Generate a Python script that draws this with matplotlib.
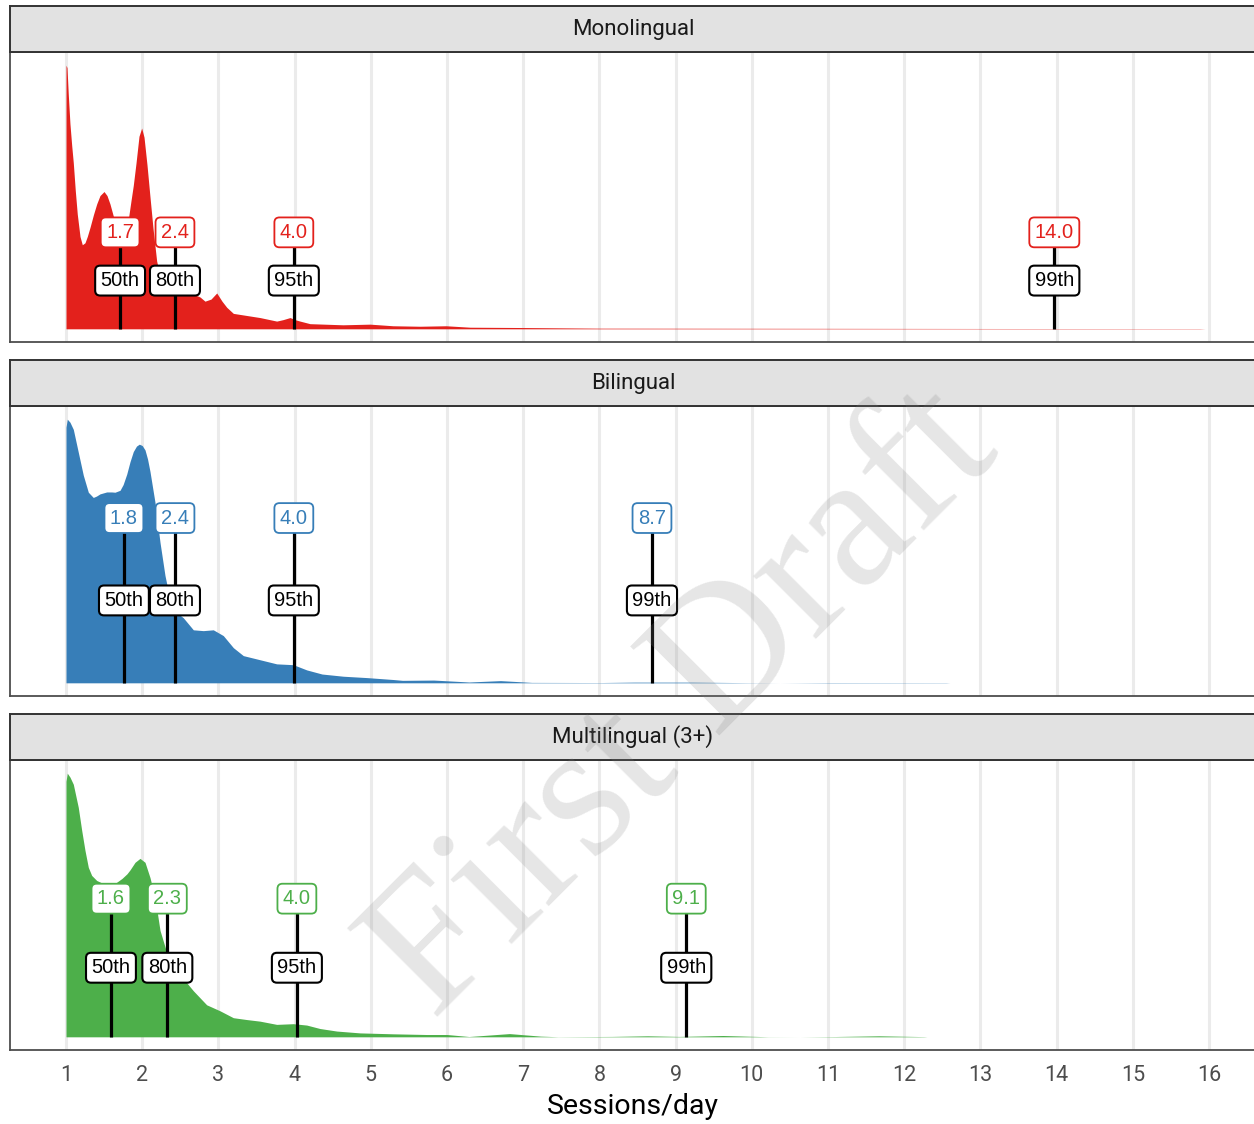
import matplotlib
matplotlib.use("Agg")
import matplotlib.pyplot as plt
import numpy as np

# ---------------- data ----------------
groups = ["Monolingual", "Bilingual", "Multilingual (3+)"]
colors = ["#E3211C", "#377EB8", "#4DAF4A"]

mono_x = [1.000, 1.013, 1.030, 1.052, 1.075, 1.096, 1.122, 1.148, 1.184, 1.214, 1.249, 1.280,
          1.315, 1.360, 1.403, 1.446, 1.499, 1.538, 1.577, 1.621, 1.669, 1.709, 1.761, 1.814,
          1.853, 1.883, 1.919, 1.958, 1.993, 2.024, 2.063, 2.102, 2.142, 2.190, 2.234, 2.299,
          2.365, 2.496, 2.588, 2.667, 2.759, 2.824, 2.903, 2.978, 3.047, 3.109, 3.196, 3.371,
          3.546, 3.765, 3.848, 3.940, 4.005, 4.071, 4.202, 4.635, 4.990, 5.291, 5.646, 5.987,
          6.302, 6.984, 8.008, 10.63, 13.26, 15.88, 15.95]
mono_y = [1.640, 1.625, 1.459, 1.275, 1.140, 1.032, 0.860, 0.714, 0.574, 0.523, 0.535, 0.575,
          0.631, 0.710, 0.777, 0.829, 0.854, 0.829, 0.777, 0.701, 0.605, 0.548, 0.561, 0.669,
          0.797, 0.892, 1.032, 1.198, 1.249, 1.192, 1.020, 0.822, 0.625, 0.421, 0.331, 0.280,
          0.255, 0.236, 0.229, 0.217, 0.198, 0.172, 0.185, 0.223, 0.172, 0.134, 0.096, 0.083,
          0.070, 0.048, 0.057, 0.070, 0.057, 0.048, 0.032, 0.025, 0.029, 0.019, 0.016, 0.019,
          0.010, 0.008, 0.004, 0.003, 0.002, 0.0015, 0.000]

bi_x = [1.000, 1.017, 1.052, 1.096, 1.161, 1.227, 1.293, 1.358, 1.400, 1.446, 1.534, 1.600,
        1.643, 1.709, 1.750, 1.797, 1.840, 1.883, 1.925, 1.962, 2.000, 2.037, 2.070, 2.102,
        2.168, 2.234, 2.299, 2.365, 2.453, 2.539, 2.671, 2.802, 2.933, 3.064, 3.196, 3.327,
        3.546, 3.765, 3.983, 4.159, 4.360, 4.639, 4.950, 5.295, 5.416, 5.825, 6.289, 6.702,
        7.112, 8.008, 8.454, 9.215, 9.911, 10.37, 11.03, 12.55, 12.60]
bi_y = [0.931, 0.960, 0.949, 0.923, 0.840, 0.756, 0.694, 0.675, 0.680, 0.688, 0.695, 0.695,
        0.694, 0.701, 0.722, 0.760, 0.805, 0.842, 0.862, 0.869, 0.864, 0.848, 0.815, 0.770,
        0.657, 0.511, 0.391, 0.303, 0.256, 0.237, 0.193, 0.190, 0.193, 0.172, 0.128, 0.099,
        0.084, 0.069, 0.066, 0.047, 0.032, 0.024, 0.019, 0.012, 0.009, 0.010, 0.003, 0.008,
        0.0015, 0.001, 0.0025, 0.0025, 0.0007, 0.000, 0.001, 0.0007, 0.000]

multi_x = [1.000, 1.017, 1.052, 1.096, 1.161, 1.206, 1.249, 1.293, 1.337, 1.403, 1.512, 1.643,
           1.735, 1.800, 1.840, 1.906, 1.971, 2.037, 2.102, 2.168, 2.234, 2.322, 2.453, 2.671,
           2.846, 3.021, 3.196, 3.371, 3.546, 3.765, 3.983, 4.159, 4.333, 4.553, 4.858, 5.295,
           5.734, 6.000, 6.289, 6.820, 7.228, 7.457, 8.165, 8.633, 9.045, 9.622, 10.213, 10.63,
           11.09, 11.67, 12.26, 12.30]
multi_y = [1.110, 1.145, 1.128, 1.097, 0.997, 0.897, 0.810, 0.736, 0.701, 0.679, 0.662, 0.666,
           0.688, 0.708, 0.725, 0.758, 0.775, 0.758, 0.692, 0.605, 0.462, 0.366, 0.287, 0.200,
           0.139, 0.113, 0.083, 0.075, 0.068, 0.054, 0.057, 0.051, 0.036, 0.025, 0.017, 0.013,
           0.010, 0.010, 0.0013, 0.014, 0.003, 0.0004, 0.0017, 0.0044, 0.0017, 0.0057, 0.0004,
           0.000, 0.0013, 0.0044, 0.0009, 0.000]

dens_x = [mono_x, bi_x, multi_x]
dens_y = [mono_y, bi_y, multi_y]

pct_names = ["50th", "80th", "95th", "99th"]
pct_values = [[1.71, 2.43, 3.99, 13.97],
              [1.76, 2.43, 3.99, 8.69],
              [1.59, 2.33, 4.03, 9.14]]
value_label_y = 0.6
name_label_y = 0.3

x_ticks = list(range(1, 17))

# ---------------- figure / layout ----------------
W, H = 1254, 1124
fig = plt.figure(figsize=(W / 100, H / 100), dpi=100)
fig.patch.set_facecolor("white")

TICK_FONT = "Roboto"
LABEL_FONT = "Liberation Sans"

panel_left_px, panel_right_px = 10, 1257
panel_tops = [52, 406, 760]
panel_h = 290
strip_h = 46

px_per_unit = 76.2
x0_px = 66
xlim = (1 - (x0_px - panel_left_px) / px_per_unit,
        1 + (panel_right_px - x0_px) / px_per_unit)

for i, g in enumerate(groups):
    top = panel_tops[i]
    ax = fig.add_axes([panel_left_px / W, 1 - (top + panel_h) / H,
                       (panel_right_px - panel_left_px) / W, panel_h / H])
    ax.set_facecolor("white")
    ymax = max(dens_y[i])
    ax.set_xlim(*xlim)
    ax.set_ylim(-0.05 * ymax, 1.05 * ymax)
    for xt in x_ticks:
        ax.axvline(xt, color="#EBEBEB", lw=2.2, zorder=0)
    ax.fill_between(dens_x[i], 0, dens_y[i], color=colors[i], lw=0, zorder=2)

    for name, v in zip(pct_names, pct_values[i]):
        ax.plot([v, v], [0, value_label_y], color="black", lw=2.3, zorder=3,
                solid_capstyle="butt")
        ax.text(v, value_label_y, f"{v:.1f}", ha="center", va="center",
                fontsize=14.5, family=LABEL_FONT, color=colors[i], zorder=5,
                bbox=dict(boxstyle="round,pad=0.27,rounding_size=0.25",
                          fc="white", ec=colors[i], lw=1.3))
        ax.text(v, name_label_y, name, ha="center", va="center",
                fontsize=14.5, family=LABEL_FONT, color="black", zorder=5,
                bbox=dict(boxstyle="round,pad=0.27,rounding_size=0.25",
                          fc="white", ec="black", lw=1.5))

    ax.set_yticks([])
    ax.set_xticks(x_ticks)
    if i == 2:
        ax.tick_params(axis="x", length=0, pad=11, labelsize=15.5,
                       labelcolor="#4D4D4D")
        for lab in ax.get_xticklabels():
            lab.set_family(TICK_FONT)
    else:
        ax.tick_params(axis="x", length=0, labelbottom=False)
    for sp in ax.spines.values():
        sp.set_color("#4D4D4D")
        sp.set_linewidth(1.3)

    # strip
    sax = fig.add_axes([panel_left_px / W, 1 - top / H,
                        (panel_right_px - panel_left_px) / W, strip_h / H])
    sax.set_facecolor("#E2E2E2")
    sax.set_xticks([])
    sax.set_yticks([])
    for sp in sax.spines.values():
        sp.set_color("#333333")
        sp.set_linewidth(1.4)
    sax.text((633 - panel_left_px) / (panel_right_px - panel_left_px), 0.5, g,
             ha="center", va="center", transform=sax.transAxes,
             fontsize=16, family=TICK_FONT, color="#1A1A1A")

fig.text(633 / W, 1 - 1106 / H, "Sessions/day", ha="center", va="center",
         fontsize=20.5, family=TICK_FONT, color="black")

# watermark
fig.text(685 / W, 1 - 705 / H, "First Draft", ha="center", va="center",
         rotation=45, fontsize=138, family="Liberation Serif",
         color="grey", alpha=0.2, zorder=100)

fig.savefig("out.png", dpi=100)
